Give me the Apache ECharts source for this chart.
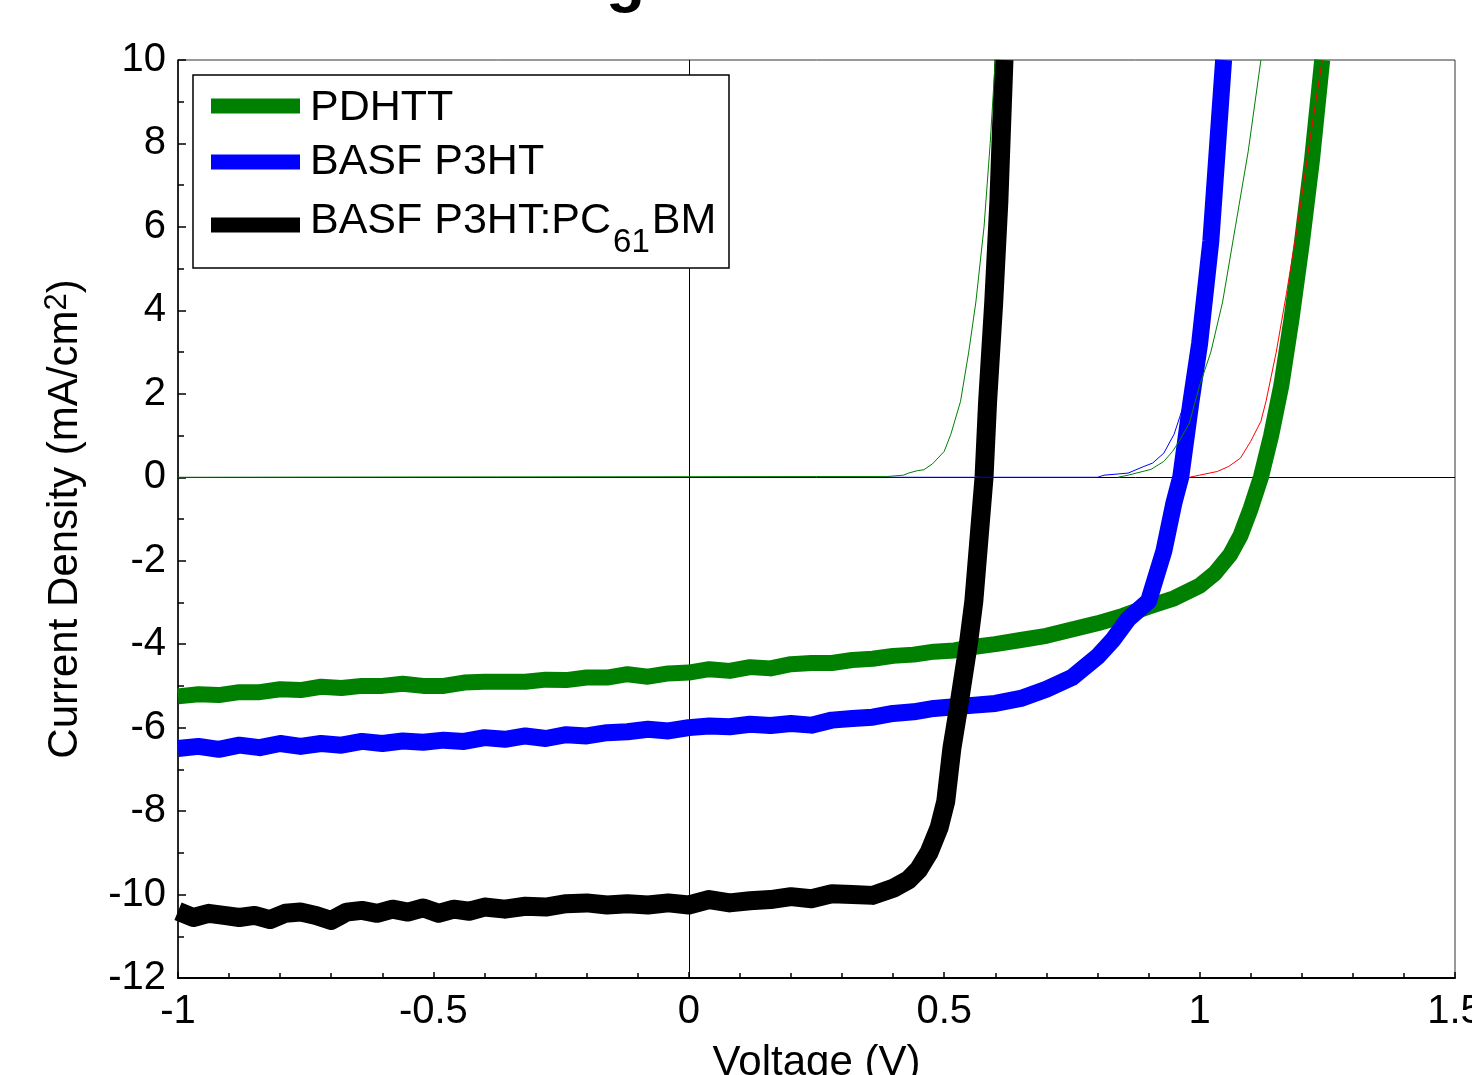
<!DOCTYPE html>
<html>
<head>
<meta charset="utf-8">
<script src="https://cdn.jsdelivr.net/npm/echarts@6.0.0/dist/echarts.min.js"></script>
<style>
html,body{margin:0;padding:0;background:#fff;}
#jv_chart{width:1472px;height:1075px;}
</style>
</head>
<body>
<div id="jv_chart"></div>
<script>
// 光照 J-V 曲线 (粗线)
var pdhttV = [-1.00,-0.96,-0.92,-0.88,-0.84,-0.80,-0.76,-0.72,-0.68,-0.64,-0.60,-0.56,-0.52,-0.48,-0.44,-0.40,-0.36,-0.32,-0.28,-0.24,-0.20,-0.16,-0.12,-0.08,-0.04,0.00,0.04,0.08,0.12,0.16,0.20,0.24,0.28,0.32,0.36,0.40,0.44,0.48,0.52,0.56,0.60,0.65,0.70,0.75,0.80,0.85,0.90,0.95,1.00,1.03,1.06,1.08,1.10,1.12,1.14,1.16,1.18,1.20,1.22,1.24];
var pdhttJ = [-5.25,-5.2,-5.22,-5.15,-5.15,-5.08,-5.1,-5.02,-5.05,-5.0,-5.0,-4.95,-5.0,-5.0,-4.92,-4.9,-4.9,-4.9,-4.85,-4.86,-4.8,-4.8,-4.72,-4.78,-4.7,-4.68,-4.6,-4.64,-4.55,-4.58,-4.48,-4.45,-4.45,-4.38,-4.35,-4.28,-4.25,-4.18,-4.15,-4.06,-4.0,-3.9,-3.8,-3.65,-3.5,-3.32,-3.1,-2.9,-2.6,-2.3,-1.85,-1.4,-0.75,0.0,1.0,2.2,3.8,5.6,7.6,10.0];

var p3htV = [-1.00,-0.96,-0.92,-0.88,-0.84,-0.80,-0.76,-0.72,-0.68,-0.64,-0.60,-0.56,-0.52,-0.48,-0.44,-0.40,-0.36,-0.32,-0.28,-0.24,-0.20,-0.16,-0.12,-0.08,-0.04,0.00,0.04,0.08,0.12,0.16,0.20,0.24,0.28,0.32,0.36,0.40,0.44,0.48,0.52,0.56,0.60,0.65,0.70,0.75,0.80,0.83,0.86,0.90,0.93,0.95,0.963,0.983,1.00,1.022,1.047];
var p3htJ = [-6.5,-6.45,-6.52,-6.42,-6.48,-6.38,-6.45,-6.38,-6.42,-6.33,-6.38,-6.32,-6.35,-6.3,-6.33,-6.24,-6.28,-6.2,-6.26,-6.17,-6.2,-6.12,-6.1,-6.04,-6.08,-6.0,-5.96,-5.98,-5.92,-5.95,-5.9,-5.94,-5.82,-5.78,-5.75,-5.66,-5.62,-5.54,-5.5,-5.46,-5.42,-5.3,-5.08,-4.8,-4.3,-3.9,-3.4,-2.97,-1.77,-0.6,0.0,1.8,3.2,5.66,10.0];

var blendV = [-1.00,-0.97,-0.94,-0.91,-0.88,-0.85,-0.82,-0.79,-0.76,-0.73,-0.70,-0.67,-0.64,-0.61,-0.58,-0.55,-0.52,-0.49,-0.46,-0.43,-0.40,-0.36,-0.32,-0.28,-0.24,-0.20,-0.16,-0.12,-0.08,-0.04,0.00,0.04,0.08,0.12,0.16,0.20,0.24,0.28,0.32,0.36,0.40,0.43,0.45,0.47,0.49,0.503,0.515,0.527,0.548,0.558,0.578,0.585,0.597,0.607,0.617];
var blendJ = [-10.4,-10.55,-10.45,-10.5,-10.55,-10.5,-10.6,-10.45,-10.42,-10.5,-10.62,-10.42,-10.38,-10.45,-10.35,-10.42,-10.32,-10.45,-10.35,-10.4,-10.3,-10.35,-10.28,-10.3,-10.22,-10.2,-10.25,-10.22,-10.25,-10.2,-10.25,-10.12,-10.2,-10.15,-10.12,-10.05,-10.1,-9.98,-10.0,-10.02,-9.85,-9.65,-9.4,-9.0,-8.4,-7.77,-6.5,-5.6,-3.93,-2.97,0.0,1.82,4.2,6.6,10.0];

// 暗态曲线 (细线)
var darkGreenV = [-1.00,0.39,0.42,0.43,0.448,0.46,0.477,0.50,0.513,0.532,0.548,0.562,0.578,0.59,0.60];
var darkGreenJ = [0,0.02,0.05,0.1,0.16,0.18,0.32,0.62,1.03,1.82,3.0,4.2,6.0,8.0,10.0];

var darkBlueV = [0.39,0.80,0.813,0.86,0.891,0.908,0.93,0.95,0.967,0.985,1.005,1.025,1.045];
var darkBlueJ = [0,0,0.05,0.1,0.26,0.34,0.58,1.03,1.66,2.4,4.0,6.5,10.0];

var darkGreen2V = [0.84,0.86,0.905,0.93,0.947,0.96,0.98,1.00,1.022,1.045,1.07,1.095,1.12];
var darkGreen2J = [0,0.05,0.19,0.38,0.62,0.86,1.3,2.2,3.0,4.2,6.0,7.8,10.0];

var darkRedV = [0.98,1.00,1.035,1.057,1.08,1.10,1.12,1.13,1.15,1.17,1.19,1.215,1.24];
var darkRedJ = [0,0.05,0.14,0.26,0.46,0.86,1.34,1.82,3.0,4.4,5.9,8.0,10.0];

var xTicks = [-1, -0.5, 0, 0.5, 1, 1.5];
var yTicks = [-12, -10, -8, -6, -4, -2, 0, 2, 4, 6, 8, 10];

var legendNames = ['PDHTT', 'BASF P3HT', 'BASF P3HT:PC'];
var legendColors = ['#008000', '#0000ff', '#000000'];

var FONT = '"Liberation Sans", Arial, sans-serif';

function pairs(xs, ys){
	var out = [];
	for (var i = 0; i < xs.length; i++) {
		out.push([xs[i], ys[i]]);
	}
	return out;
}

function thick(name, color, xs, ys, w){
	return {
		name: name,
		type: 'line',
		data: pairs(xs, ys),
		symbol: 'none',
		z: 3,
		itemStyle: {color: color},
		lineStyle: {color: color, width: w, join: 'round', cap: 'butt'}
	};
}

function thin(color, xs, ys){
	return {
		type: 'line',
		data: pairs(xs, ys),
		symbol: 'none',
		silent: true,
		z: 4,
		lineStyle: {color: color, width: 1}
	};
}

function textWidth(str, font){
	var ctx = document.createElement('canvas').getContext('2d');
	ctx.font = font;
	return ctx.measureText(str).width;
}

/**
 * 图例 (带下标)
 */
function legendBox(){
	var mainFont = '43px ' + FONT;
	var subFont = '33px ' + FONT;
	var iconY = [106, 162, 225];
	var textY = [108, 162, 221];
	var els = [{
		type: 'rect', z: 100, silent: true,
		shape: {x: 193, y: 75, width: 536, height: 193},
		style: {fill: '#fff', stroke: '#000', lineWidth: 1.5}
	}];
	for (var i = 0; i < legendNames.length; i++) {
		els.push({
			type: 'rect', z: 101, silent: true,
			shape: {x: 211, y: iconY[i] - 7.5, width: 89, height: 15},
			style: {fill: legendColors[i]}
		});
		els.push({
			type: 'text', z: 101, silent: true, x: 310, y: textY[i],
			style: {text: legendNames[i], font: mainFont, fill: '#000', verticalAlign: 'middle'}
		});
	}
	var subX = 310 + textWidth(legendNames[2], mainFont) + 2;
	els.push({
		type: 'text', z: 101, silent: true, x: subX, y: 243,
		style: {text: '61', font: subFont, fill: '#000', verticalAlign: 'middle'}
	});
	els.push({
		type: 'text', z: 101, silent: true, x: subX + textWidth('61', subFont) + 2, y: textY[2],
		style: {text: 'BM', font: mainFont, fill: '#000', verticalAlign: 'middle'}
	});
	// 被裁掉的标题残余
	els.push({
		type: 'text', z: 101, silent: true, x: 606, y: -50,
		style: {text: 'g', font: 'bold 64px ' + FONT, fill: '#000'}
	});
	return els;
}

function jvChart(){
	var myChart = echarts.init(document.getElementById('jv_chart'));
	var option = {
		animation: false,
		backgroundColor: '#fff',
		graphic: legendBox(),
		grid: {
			left: 178, right: 17, top: 60, bottom: 97,
			outerBoundsMode: 'none',
			containLabel: false,
			show: true, borderColor: '#333', borderWidth: 1
		},
		xAxis: {
			type: 'value',
			min: xTicks[0], max: xTicks[xTicks.length - 1], interval: 0.5,
			name: 'Voltage (V)', nameLocation: 'middle', nameGap: 64,
			nameTextStyle: {fontFamily: FONT, fontSize: 42, color: '#000'},
			axisLine: {show: true, onZero: false, lineStyle: {color: '#000', width: 2}},
			axisTick: {show: true, inside: true, length: 6, lineStyle: {color: '#000', width: 1.5}},
			minorTick: {show: true, splitNumber: 5, length: 5, lineStyle: {color: '#000', width: 1.5}},
			axisLabel: {fontFamily: FONT, fontSize: 40, color: '#000', margin: 14},
			splitLine: {show: false}
		},
		yAxis: {
			type: 'value',
			min: yTicks[0], max: yTicks[yTicks.length - 1], interval: 2,
			name: '{a|Current Density (mA/cm}{b|2}{a|)}', nameLocation: 'middle', nameGap: 92,
			nameTextStyle: {
				fontFamily: FONT, fontSize: 42, color: '#000',
				rich: {
					a: {fontFamily: FONT, fontSize: 42, lineHeight: 44, color: '#000', verticalAlign: 'bottom'},
					b: {fontFamily: FONT, fontSize: 31, lineHeight: 30, color: '#000', verticalAlign: 'top', padding: [0, 0, 22, 0]}
				}
			},
			axisLine: {show: true, onZero: false, lineStyle: {color: '#000', width: 1.5}},
			axisTick: {show: true, inside: true, length: 8, lineStyle: {color: '#000', width: 1.5}},
			minorTick: {show: true, splitNumber: 2, length: 6, lineStyle: {color: '#000', width: 1.5}},
			axisLabel: {fontFamily: FONT, fontSize: 40, color: '#000', margin: 12},
			splitLine: {show: false}
		},
		series: [
			{
				type: 'line', data: [], silent: true, z: 0,
				markLine: {
					silent: true, symbol: 'none', animation: false, z: 0,
					label: {show: false},
					lineStyle: {color: '#000', width: 1, type: 'solid'},
					data: [{xAxis: 0}, {yAxis: 0}]
				}
			},
			thick('PDHTT', '#008000', pdhttV, pdhttJ, 16),
			thick('BASF P3HT', '#0000ff', p3htV, p3htJ, 17),
			thick('BASF P3HT:PC61BM', '#000000', blendV, blendJ, 19),
			thin('#008000', darkGreenV, darkGreenJ),
			thin('#0000ff', darkBlueV, darkBlueJ),
			thin('#008000', darkGreen2V, darkGreen2J),
			thin('#ff0000', darkRedV, darkRedJ)
		]
	};
	myChart.setOption(option);
}

jvChart();
</script>
</body>
</html>
